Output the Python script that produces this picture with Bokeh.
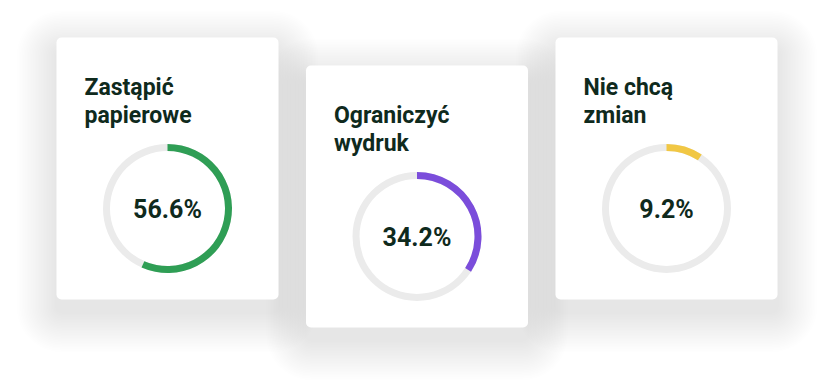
import math
from bokeh.plotting import figure
from bokeh.models import Range1d, ColumnDataSource
from bokeh.core.properties import value
from bokeh.embed import file_html
from bokeh.resources import INLINE

# ---- data ----
titles = ["Zastąpić\npapierowe", "Ograniczyć\nwydruk", "Nie chcą\nzmian"]
values = [56.6, 34.2, 9.2]
colors = ["#2f9e55", "#7b4ddb", "#f1c744"]

# ---- layout (page pixels) ----
W, H = 819, 384
card_left = [56, 305.5, 555]
card_top = [37, 65, 37]
CARD_W, CARD_H = 222, 262
TITLE_DX, TITLE_DY, LINE_H = 28, 50, 27.6
RING_DX, RING_DY = 111, 171
R_OUT, R_IN = 64.5, 57.5
TEXT_COLOR = "#0f2a1d"
TRACK = "#ebebeb"


def X(px):
    return px


def Y(py):
    return H - py


p = figure(width=W, height=H, x_range=Range1d(0, W), y_range=Range1d(0, H),
           output_backend="svg", toolbar_location=None, min_border=0)
p.axis.visible = False
p.grid.visible = False
p.outline_line_color = None
p.background_fill_color = "white"
p.border_fill_color = "white"

# shadows
for k in range(1, 26):
    e = k * 1.6
    src = ColumnDataSource(dict(
        left=[X(l - e) for l in card_left],
        right=[X(l + CARD_W + e) for l in card_left],
        top=[Y(t - e + 13) for t in card_top],
        bottom=[Y(t + CARD_H + e + 13) for t in card_top],
    ))
    p.quad(left="left", right="right", top="top", bottom="bottom", source=src,
           fill_color="black", fill_alpha=0.0036, line_color=None,
           border_radius=int(round(5 + e)))

# cards
cards = ColumnDataSource(dict(
    left=[X(l) for l in card_left],
    right=[X(l + CARD_W) for l in card_left],
    top=[Y(t) for t in card_top],
    bottom=[Y(t + CARD_H) for t in card_top],
))
p.quad(left="left", right="right", top="top", bottom="bottom", source=cards,
       fill_color="white", line_color=None, border_radius=5)

# rings
cx = [X(l + RING_DX) for l in card_left]
cy = [Y(t + RING_DY) for t in card_top]
p.annulus(x=cx, y=cy, inner_radius=R_IN, outer_radius=R_OUT,
          fill_color=TRACK, line_color=None)
start = [math.pi / 2] * len(values)
end = [math.pi / 2 - 2 * math.pi * v / 100 for v in values]
p.annular_wedge(x=cx, y=cy, inner_radius=R_IN, outer_radius=R_OUT,
                start_angle=start, end_angle=end, direction="clock",
                fill_color=colors, line_color=None)

# percentage labels
p.text(x=cx, y=[c - 1 for c in cy], text=[f"{v:.1f}%" for v in values],
       text_font=value("Roboto"), text_font_style="bold",
       text_font_size="25px", text_color=TEXT_COLOR,
       text_align="center", text_baseline="middle")

# titles
tx, ty, tt = [], [], []
for l, t, title in zip(card_left, card_top, titles):
    for i, line in enumerate(title.split("\n")):
        tx.append(X(l + TITLE_DX))
        ty.append(Y(t + TITLE_DY + i * LINE_H))
        tt.append(line)
p.text(x=tx, y=ty, text=tt, text_font=value("Roboto"), text_font_style="bold",
       text_font_size="23px", text_color=TEXT_COLOR,
       text_align="left", text_baseline="alphabetic")

open("out.html", "w").write(file_html(p, INLINE))
